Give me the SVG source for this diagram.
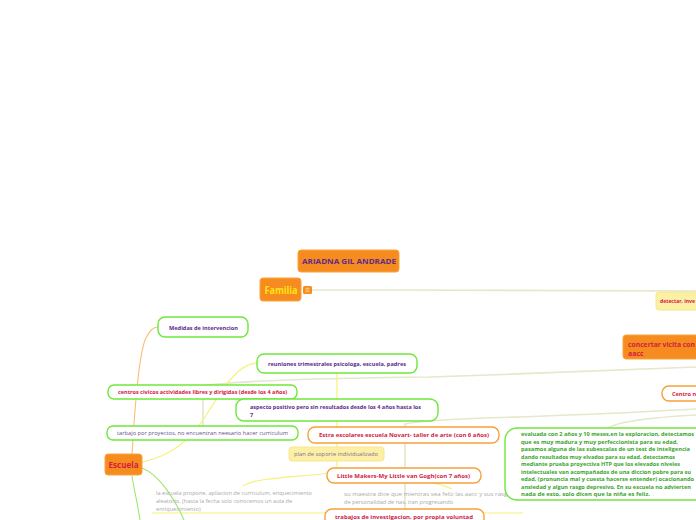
<svg xmlns="http://www.w3.org/2000/svg" width="696" height="520" viewBox="0 0 696 520">
<style>
text{font-family:"Open Sans","Liberation Sans",sans-serif}
.b{font-weight:bold}
.cr{fill:#d4203f}
.pu{fill:#5e2a8c}
.gr{fill:#a9a9a9}
.or{fill:#f68c1f;stroke:#f9a43f;stroke-width:1}
.go{fill:#fff;stroke:#6ee83a;stroke-width:1.4}
.oo{fill:#fff;stroke:#f7a03a;stroke-width:1.4}
.yf{fill:#fcf0a6;stroke:#f8e68c;stroke-width:1}
.cb{fill:none;stroke:#e6e7cb;stroke-width:1.6}
.cy{fill:none;stroke:#f6f17a;stroke-width:1.2}
.cg{fill:none;stroke:#9ee86a;stroke-width:1.1}
.co{fill:none;stroke:#fbbf7a;stroke-width:1.1}
</style>
<rect width="696" height="520" fill="#fff"/>
<g id="connectors">
<path class="cb" d="M312 290 C450 290 600 290 696 291"/>
<path class="cb" d="M203 426 L203 386 C240 380 330 378 430 377 C520 374 620 370 696 367"/>
<path class="cb" d="M405 520 L405 424 C430 419 480 418 520 417 C600 414 660 411 696 409"/>
<path class="cb" d="M608 428 C620 420 660 417 696 415"/>
<path class="co" d="M132 456 C134 420 138 360 145 340 C150 330 153 327 158 327"/>
<path class="cy" d="M142 462 C200 450 210 400 230 380 C240 368 250 363 257 363"/>
<path class="cy" d="M337 373 L337 472"/>
<path class="cy" d="M337 472 C300 478 260 476 243 486"/>
<path class="cy" d="M337 474 C380 476 430 478 452 489"/>
<path class="cy" d="M152 513 L523 513" stroke-width="1.6"/>
<path class="cg" d="M132 476 C134 490 138 505 140 520"/>
<path class="cg" d="M142 468 C160 475 175 500 184 520"/>
</g>
<g id="title"><rect class="or" x="298" y="250" width="101" height="22" rx="3"/><text class="b pu" x="349" y="264" font-size="7.6" text-anchor="middle" textLength="94" lengthAdjust="spacingAndGlyphs">ARIADNA GIL ANDRADE</text></g>
<g id="familia"><rect class="or" x="260" y="278" width="41" height="23" rx="3"/><text class="b" x="281" y="293.5" font-size="10" fill="#ffe418" text-anchor="middle" textLength="33" lengthAdjust="spacingAndGlyphs">Familia</text>
<rect x="303" y="286" width="9" height="8" rx="1.5" fill="#f68c1f"/><path d="M305.5 288.3h4M305.5 290h4M305.5 291.7h4" stroke="#fde9a0" stroke-width="0.7"/></g>
<g id="detectar"><rect class="yf" x="656" y="292" width="50" height="18" rx="3"/><text class="b cr" x="660" y="302.5" font-size="5.6" textLength="35" lengthAdjust="spacingAndGlyphs">detectar, inve</text></g>
<g id="concertar"><rect class="or" x="623" y="335" width="80" height="24" rx="3"/><text class="b cr" font-size="7" x="628" y="346.5" textLength="67" lengthAdjust="spacingAndGlyphs">concertar vicita con</text><text class="b cr" font-size="7" x="628" y="355.5">aacc</text></g>
<g id="centro"><rect class="oo" x="662" y="386" width="50" height="15" rx="7"/><text class="b cr" x="672" y="396" font-size="5.6">Centro n</text></g>
<g id="medidas"><rect class="go" x="158" y="317" width="90" height="20" rx="7"/><text class="b pu" x="169" y="329.5" font-size="5.6" textLength="69" lengthAdjust="spacingAndGlyphs">Medidas de intervencion</text></g>
<g id="reuniones"><rect class="go" x="257" y="354" width="160" height="19" rx="7"/><text class="b pu" x="268" y="365.5" font-size="5.6" textLength="138" lengthAdjust="spacingAndGlyphs">reuniones trimestrales psicologa, escuela, padres</text></g>
<g id="centros"><rect class="go" x="108" y="385" width="189" height="14" rx="6"/><text class="b cr" x="118" y="394.2" font-size="5.6" textLength="169" lengthAdjust="spacingAndGlyphs">centros civicos actividades libres y dirigidas (desde los 4 años)</text></g>
<g id="aspecto"><rect class="go" x="236" y="399" width="202" height="22" rx="8"/><text class="b pu" x="250" y="409" font-size="5.6" textLength="171" lengthAdjust="spacingAndGlyphs">aspecto positivo pero sin resultados desde los 4 años hasta los</text><text class="b pu" x="250" y="417" font-size="5.6">7</text></g>
<g id="tarbajo"><rect class="go" x="107" y="426" width="191" height="14" rx="6"/><text x="117" y="435.2" font-size="5.6" fill="#6a4f93" textLength="171" lengthAdjust="spacingAndGlyphs">tarbajo por proyectos, no encuentran neesario hacer curriculum</text></g>
<g id="estra"><rect class="oo" x="308" y="427" width="191" height="16" rx="7"/><text class="b cr" x="319" y="437.2" font-size="5.6" textLength="170" lengthAdjust="spacingAndGlyphs">Estra escolares escuela Novart- taller de arte (con 6 años)</text></g>
<g id="plan"><rect class="yf" x="289" y="447" width="95" height="14" rx="3"/><text x="294" y="456.2" font-size="5.6" fill="#8a6a9a" textLength="84" lengthAdjust="spacingAndGlyphs">plan de soporte individualizado</text></g>
<g id="little"><rect class="oo" x="327" y="468" width="154" height="15" rx="7"/><text class="b cr" x="337" y="477.5" font-size="5.8" textLength="133" lengthAdjust="spacingAndGlyphs">Little Makers-My Little van Gogh(con 7 años)</text></g>
<g id="escuela-propone"><text class="gr" font-size="5.6" x="156" y="495" textLength="156" lengthAdjust="spacingAndGlyphs">la escuela propone, apliacion de curriculum, eriquecimiento</text><text class="gr" font-size="5.6" x="156" y="503">aleatorio, (hasta la fecha solo conocemos un aula de</text><text class="gr" font-size="5.6" x="156" y="511">enriquecimiento)</text></g>
<g id="maestra"><text class="gr" font-size="5.6" x="344" y="496" textLength="170" lengthAdjust="spacingAndGlyphs">su maestra dice que mientras sea feliz las aacc y sus rasgos</text><text class="gr" font-size="5.6" x="344" y="504">de personalidad de nas, iran progresando</text></g>
<g id="trabajos"><rect class="oo" x="325" y="509" width="159" height="20" rx="7"/><text class="b cr" x="335" y="519" font-size="5.8" textLength="138" lengthAdjust="spacingAndGlyphs">trabajos de investigacion, por propia voluntad</text></g>
<g id="evaluada"><rect class="go" x="505" y="428" width="205" height="72" rx="12"/>
<g class="b" font-size="5.5" fill="#3aa52d">
<text x="521" y="436" textLength="173" lengthAdjust="spacingAndGlyphs">evaluada con 2 años y 10 meses,en la exploracion, detectamos</text>
<text x="521" y="443.5" textLength="157" lengthAdjust="spacingAndGlyphs">que es muy madura y muy perfeccionista para su edad,</text>
<text x="521" y="451" textLength="169" lengthAdjust="spacingAndGlyphs">pasamos alguna de las subescalas de un test de inteligencia</text>
<text x="521" y="458.5" textLength="154" lengthAdjust="spacingAndGlyphs">dando resultados muy elvados para su edad, detectamos</text>
<text x="521" y="466" textLength="159" lengthAdjust="spacingAndGlyphs">mediante prueba proyectiva HTP que los elevados niveles</text>
<text x="521" y="473.5" textLength="170" lengthAdjust="spacingAndGlyphs">intelectuales van acompañados de una diccion pobre para su</text>
<text x="521" y="481" textLength="173" lengthAdjust="spacingAndGlyphs">edad, (pronuncia mal y cuesta hacerse entender) ocacionando</text>
<text x="521" y="488.5" textLength="170" lengthAdjust="spacingAndGlyphs">ansiedad y algun rasgo depresivo. En su escuela no advierten</text>
<text x="521" y="496" textLength="129" lengthAdjust="spacingAndGlyphs">nada de esto, solo dicen que la niña es feliz.</text>
</g></g>
<g id="escuela"><rect class="or" x="105" y="454" width="37" height="21" rx="3"/><text class="b cr" x="123.5" y="468" font-size="9" text-anchor="middle" textLength="30" lengthAdjust="spacingAndGlyphs">Escuela</text></g>
</svg>
